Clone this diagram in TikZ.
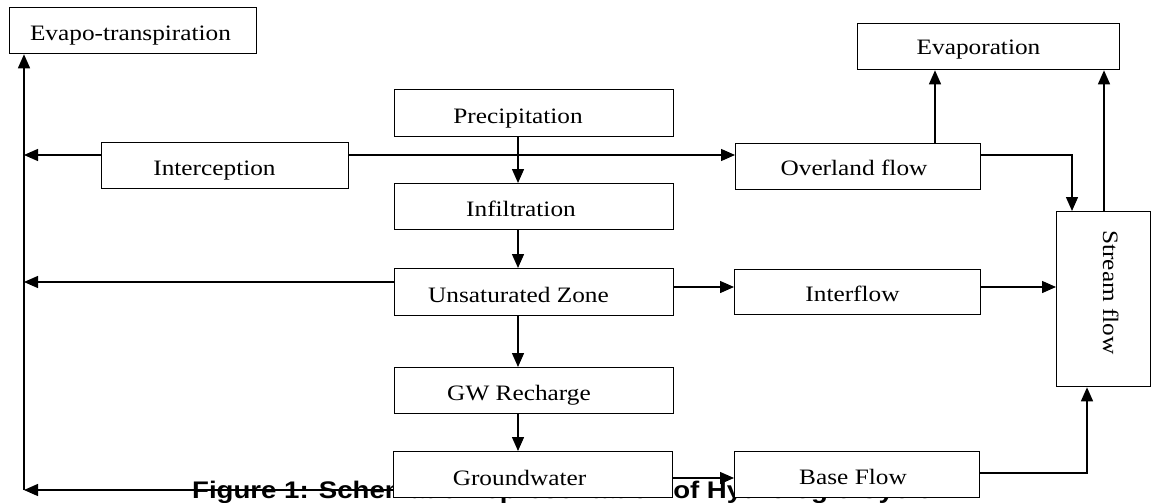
\documentclass[tikz,border=0pt]{standalone}
\usepackage{fontspec}
\usetikzlibrary{arrows.meta,calc}
\newfontfamily\boxfont[FakeStretch=1.15]{Liberation Serif}
\newfontface\capfont[FakeStretch=1.15]{Liberation Sans Bold}
\begin{document}
\begin{tikzpicture}[x=1pt,y=-1pt,
  box/.style={draw,line width=1.3pt,fill=white,inner sep=0pt,anchor=north west},
  lbl/.style={font=\boxfont\fontsize{22}{26}\selectfont,anchor=base,inner sep=0pt},
  arr/.style={line width=1.4pt,-{Triangle[length=14pt,width=12pt]}},
  ln/.style={line width=1.4pt}]
\useasboundingbox (0,0) rectangle (1152,503);
% caption (partly hidden behind the boxes)
\node[anchor=base west,inner sep=0pt,font=\capfont\fontsize{24}{28}\selectfont] (cap) at (192,498) {Figure 1: Schematic Representation of Hydrologic Cycle};
% boxes
\node[box,minimum width=247,minimum height=46] (evt) at (9,7) {};
\node[box,minimum width=262,minimum height=46] (evap) at (857,23) {};
\node[box,minimum width=279,minimum height=47] (precip) at (394,89) {};
\node[box,minimum width=247,minimum height=46] (intc) at (101,142) {};
\node[box,minimum width=245,minimum height=46] (over) at (735,143) {};
\node[box,minimum width=279,minimum height=46] (infil) at (394,183) {};
\node[box,minimum width=279,minimum height=47] (unsat) at (394,268) {};
\node[box,minimum width=246,minimum height=45] (inter) at (734,269) {};
\node[box,minimum width=94,minimum height=175] (stream) at (1056,211) {};
\node[box,minimum width=279,minimum height=46] (gwr) at (394,367) {};
\node[box,minimum width=279,minimum height=46] (gw) at (393,451) {};
\node[box,minimum width=245,minimum height=46] (base) at (734,451) {};
% labels
\node[lbl] (evtT) at (130.5,40.5) {Evapo-transpiration};
\node[lbl] (evapT) at (978.5,55) {Evaporation};
\node[lbl] (precipT) at (518,123) {Precipitation};
\node[lbl] (intcT) at (214.5,175) {Interception};
\node[lbl] (overT) at (854,175) {Overland flow};
\node[lbl] (infilT) at (521,216.5) {Infiltration};
\node[lbl] (unsatT) at (518.5,302) {Unsaturated Zone};
\node[lbl] (interT) at (852.5,301.5) {Interflow};
\node[lbl] (gwrT) at (519,400) {GW Recharge};
\node[lbl] (gwT) at (519.5,485) {Groundwater};
\node[lbl] (baseT) at (853,484.5) {Base Flow};
\node[lbl,rotate=-90] (streamT) at (1103,292.5) {Stream flow};
% helper coordinates
\coordinate (L1) at (24,155);
\coordinate (L2) at (24,282);
\coordinate (L3) at (24,490);
\coordinate (C) at (518,0);
\coordinate (R2) at (0,287);
\coordinate (B1) at (0,478);
\coordinate (S1) at (1087,473);
\coordinate (S2) at (1072,155);
\coordinate (S3) at (1104,0);
\coordinate (E1) at (935,0);
% connectors
\draw[arr] (gw.west |- L3) -- (L3);
\draw[arr] (L3) -- (evt.south -| L3);
\draw[arr] (intc.west |- L1) -- (L1);
\draw[arr] (intc.east |- L1) -- (over.west |- L1);
\draw[arr] (unsat.west |- L2) -- (L2);
\draw[arr] (precip.south -| C) -- (infil.north -| C);
\draw[arr] (infil.south -| C) -- (unsat.north -| C);
\draw[arr] (unsat.south -| C) -- (gwr.north -| C);
\draw[arr] (gwr.south -| C) -- (gw.north -| C);
\draw[arr] (unsat.east |- R2) -- (inter.west |- R2);
\draw[arr] (inter.east |- R2) -- (stream.west |- R2);
\draw[arr] (gw.east |- B1) -- (base.west |- B1);
\draw[arr] (base.east |- S1) -- (S1) -- (stream.south -| S1);
\draw[arr] (over.east |- S2) -- (S2) -- (stream.north -| S2);
\draw[arr] (stream.north -| S3) -- (evap.south -| S3);
\draw[arr] (over.north -| E1) -- (evap.south -| E1);
\end{tikzpicture}
\end{document}
